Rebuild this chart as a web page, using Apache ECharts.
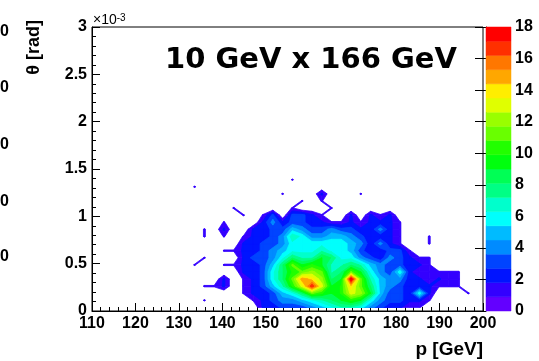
<!DOCTYPE html>
<html><head><meta charset="utf-8">
<script src="https://cdn.jsdelivr.net/npm/echarts@6/dist/echarts.min.js"></script>
<style>html,body{margin:0;padding:0;background:#fff}#c{width:539px;height:361px}</style>
</head><body><div id="c"></div>
<script>
// ---- axes / binning ----
const pMin = 110, pMax = 200, nBinsP = 40;          // p [GeV]
const thMin = 0, thMax = 3, nBinsTh = 40;           // theta in units of 1e-3 rad
const firstPBin = 10;                               // rows below hold p bins 10..38
const xTickValues = [110,120,130,140,150,160,170,180,190,200];
const yTickValues = [0,0.5,1,1.5,2,2.5,3];
const zTickValues = [0,2,4,6,8,10,12,14,16,18];
const zMax = 18, nLevels = 20;
const titleText = '10 GeV x 166 GeV';
const xTitle = 'p [GeV]';
const yTitle = '\u03b8 [rad]';
const strayLabels = ['0','0','0','0','0'];

// ---- bin contents, one array per theta bin (bin 0 = lowest), p bins 10..38 ----
const thRow00 = [0,0,0,0,0,0,0,2,2,3,3,3,4,5,6,7,7,6,4,3,2,2,1,1,0,0,0,0,0];
const thRow01 = [0,1,0,0,0,0,1,2,3,4,4,5,6,7,8,9,10,9,6,4,3,3,2,2,1,0,0,0,0];
const thRow02 = [0,0,0,0,0,1,2,2,3,5,6,8,11,10,9,10,13,12,9,5,3,3,2,6,2,0,0,0,1];
const thRow03 = [0,1,1,2,0,1,2,3,5,7,10,13,17,13,9,10,14,11,8,5,4,3,2,2,2,1,1,1,0];
const thRow04 = [0,0,0,2,0,1,2,3,6,8,11,15,14,12,8,9,18,11,7,5,4,4,2,2,1,2,1,1,0];
const thRow05 = [0,0,0,0,0,2,2,3,6,8,10,11,12,11,7,8,11,9,6,4,3,6,2,1,1,1,1,1,0];
const thRow06 = [1,0,0,1,1,2,2,3,5,8,11,9,10,9,7,7,8,7,5,4,3,3,2,2,1,0,0,0,0];
const thRow07 = [0,1,0,0,0,2,3,3,4,6,8,7,7,9,8,6,6,4,3,2,4,3,2,1,1,0,0,0,0];
const thRow08 = [0,0,0,1,1,2,2,3,4,5,6,6,6,7,6,6,5,3,2,2,3,3,1,0,0,0,0,0,0];
const thRow09 = [0,0,0,0,0,2,2,3,3,4,6,6,6,6,6,6,5,4,2,4,2,1,0,0,1,0,0,0,0];
const thRow10 = [0,1,0,1,0,1,2,2,3,4,7,6,4,4,5,5,4,3,2,2,2,1,0,0,1,0,0,0,0];
const thRow11 = [0,1,0,2,0,0,2,2,3,3,5,4,3,3,4,3,3,2,2,4,2,1,0,0,0,0,0,0,0];
const thRow12 = [0,0,0,1,0,0,0,2,4,2,3,3,2,2,1,1,2,1,2,2,2,1,0,0,0,0,0,0,0];
const thRow13 = [0,0,0,0,0,1,0,1,3,0,3,3,2,1,0,0,2,0,2,1,2,0,0,0,0,0,0,0,0];
const thRow14 = [0,0,0,0,1,0,0,0,0,0,1,0,0,0,1,0,0,0,0,0,0,0,0,0,0,0,0,0,0];
const thRow15 = [0,0,0,0,0,0,0,0,0,0,0,1,0,1,0,0,0,0,0,0,0,0,0,0,0,0,0,0,0];
const thRow16 = [0,0,0,0,0,0,0,0,0,1,0,0,0,2,0,0,0,1,0,0,0,0,0,0,0,0,0,0,0];
const thRow17 = [1,0,0,0,0,0,0,0,0,0,0,0,0,0,0,0,0,0,0,0,0,0,0,0,0,0,0,0,0];
const thRow18 = [0,0,0,0,0,0,0,0,0,0,1,0,0,0,0,0,0,0,0,0,0,0,0,0,0,0,0,0,0];
const thRows = [thRow00,thRow01,thRow02,thRow03,thRow04,thRow05,thRow06,thRow07,thRow08,thRow09,
                thRow10,thRow11,thRow12,thRow13,thRow14,thRow15,thRow16,thRow17,thRow18];

// ---- helpers ----
const pBinW = (pMax - pMin) / nBinsP, thBinW = (thMax - thMin) / nBinsTh;
const pCenter = k => pMin + (k + 0.5) * pBinW;
const thCenter = j => thMin + (j + 0.5) * thBinW;
function binVal(k, j) {
  const row = thRows[j];
  if (!row) return 0;
  const v = row[k - firstPBin];
  return v === undefined ? 0 : v;
}
const levels = [];
for (let b = 0; b <= nLevels; b++) levels.push(zMax * b / nLevels);
function hslHex(h) {
  const f = n => { const kk = (n + h / 30) % 12; const c = 0.5 - 0.5 * Math.max(-1, Math.min(kk - 3, 9 - kk, 1));
    return Math.round(c * 255).toString(16).padStart(2, '0'); };
  return '#' + f(0) + f(8) + f(4);
}
const bandColors = [];
for (let b = 0; b < nLevels; b++) {
  const idx = Math.floor((b + 0.99) * 50 / nLevels);
  const hue = idx >= 49 ? 0 : 280 - (idx + 1) * 5.6;
  bandColors.push(hslHex(hue));
}
function clipAbove(P, V, lo) {
  const out = [], n = P.length;
  for (let i = 0; i < n; i++) {
    const a = i, b = (i + 1) % n;
    const ina = V[a] >= lo, inb = V[b] >= lo;
    if (ina) out.push(P[a]);
    if (ina !== inb) {
      const t = (lo - V[a]) / (V[b] - V[a]);
      out.push([P[a][0] + t * (P[b][0] - P[a][0]), P[a][1] + t * (P[b][1] - P[a][1])]);
    }
  }
  return out;
}
function cellsAbove(lo) {
  const cells = [];
  for (let j = 0; j < nBinsTh - 1; j++) for (let k = 0; k < nBinsP - 1; k++) {
    const m = Math.max(binVal(k, j), binVal(k + 1, j), binVal(k + 1, j + 1), binVal(k, j + 1));
    if (m >= lo) cells.push([pCenter(k), thCenter(j), k, j]);
  }
  return cells;
}
function makeRenderer(b) {
  return function (params, api) {
    const k = api.value(2), j = api.value(3);
    const V = [binVal(k, j), binVal(k + 1, j), binVal(k + 1, j + 1), binVal(k, j + 1)];
    const P = [api.coord([pCenter(k), thCenter(j)]), api.coord([pCenter(k + 1), thCenter(j)]),
               api.coord([pCenter(k + 1), thCenter(j + 1)]), api.coord([pCenter(k), thCenter(j + 1)])];
    const poly = clipAbove(P, V, levels[b]);
    if (poly.length < 3) return null;
    return { type: 'polygon', shape: { points: poly },
      style: { fill: bandColors[b], stroke: bandColors[b], lineWidth: 0.8 } };
  };
}
const contourSeries = [];
for (let b = 1; b < nLevels; b++) {
  contourSeries.push({ type: 'custom', coordinateSystem: 'cartesian2d', xAxisIndex: 0, yAxisIndex: 0,
    clip: true, silent: true, data: cellsAbove(levels[b]), encode: { x: 0, y: 1 }, renderItem: makeRenderer(b) });
}
const barBands = bandColors.map((c, b) => [b]);
function renderBand(params, api) {
  const b = api.value(0);
  const p0 = api.coord([0, levels[b]]), p1 = api.coord([1, levels[b + 1]]);
  return { type: 'rect', shape: { x: p0[0], y: p1[1], width: p1[0] - p0[0], height: p0[1] - p1[1] },
    style: { fill: bandColors[b], stroke: bandColors[b], lineWidth: 0.5 } };
}

const FONT = "'Liberation Sans', Arial, Helvetica, sans-serif";
const chart = echarts.init(document.getElementById('c'), null, { renderer: 'canvas' });
const labelStyle = { color: '#000', fontFamily: FONT, fontWeight: 'bold', fontSize: 16 };
chart.setOption({
  animation: false,
  backgroundColor: '#fff',
  grid: [
    { left: 92, top: 27, width: 391, height: 284, show: true, borderColor: '#000', borderWidth: 1, backgroundColor: 'transparent' },
    { left: 486, top: 27, width: 25, height: 284, show: false }
  ],
  xAxis: [
    { type: 'value', gridIndex: 0, min: pMin, max: pMax, interval: 10,
      axisLine: { show: true, lineStyle: { color: '#000', width: 1 } },
      axisTick: { show: true, inside: true, length: 8, lineStyle: { color: '#000' } },
      minorTick: { show: true, splitNumber: 5, length: 4, lineStyle: { color: '#000' } },
      splitLine: { show: false }, minorSplitLine: { show: false },
      axisLabel: Object.assign({ margin: 5, showMinLabel: true, showMaxLabel: true }, labelStyle) },
    { type: 'value', gridIndex: 1, min: 0, max: 1, show: false }
  ],
  yAxis: [
    { type: 'value', gridIndex: 0, min: thMin, max: thMax, interval: 0.5,
      axisLine: { show: true, lineStyle: { color: '#000', width: 1 } },
      axisTick: { show: true, inside: true, length: 8, lineStyle: { color: '#000' } },
      minorTick: { show: true, splitNumber: 5, length: 4, lineStyle: { color: '#000' } },
      splitLine: { show: false }, minorSplitLine: { show: false },
      axisLabel: Object.assign({ margin: 5, showMinLabel: true, showMaxLabel: true }, labelStyle) },
    { type: 'value', gridIndex: 1, min: 0, max: zMax, interval: 2, position: 'right',
      axisLine: { show: true, lineStyle: { color: '#000', width: 1 } },
      axisTick: { show: true, inside: true, length: 11, lineStyle: { color: '#000' } },
      splitLine: { show: false },
      axisLabel: Object.assign({ margin: 4, showMinLabel: true, showMaxLabel: true }, labelStyle) }
  ],
  series: contourSeries.concat([
    { type: 'custom', coordinateSystem: 'cartesian2d', xAxisIndex: 1, yAxisIndex: 1,
      data: barBands, encode: { y: 0 }, renderItem: renderBand, silent: true }
  ]),
  graphic: [
    { type: 'text', x: 311, y: 60, style: { text: titleText, fill: '#000', font: "bold 29px 'DejaVu Sans', sans-serif",
      textAlign: 'center', textVerticalAlign: 'middle' } },
    { type: 'text', x: 483, y: 350, style: { text: xTitle, fill: '#000', font: 'bold 19px ' + FONT,
      textAlign: 'right', textVerticalAlign: 'middle' } },
    { type: 'text', x: 34, y: 20, rotation: Math.PI / 2, style: { text: yTitle, fill: '#000', font: 'bold 18px ' + FONT,
      textAlign: 'right', textVerticalAlign: 'middle' } },
    { type: 'text', x: 93, y: 13, style: { text: '{a|\u00d710}{b|-3}', fill: '#000',
      rich: { a: { fontFamily: FONT, fontSize: 14, lineHeight: 14, verticalAlign: 'bottom' },
              b: { fontFamily: FONT, fontSize: 10, lineHeight: 10, verticalAlign: 'top' } } } }
  ].concat(strayLabels.map((t, i) => ({ type: 'text', x: 9, y: [32, 88, 145, 202, 257][i],
      style: { text: t, fill: '#000', font: 'bold 16px ' + FONT, textAlign: 'right', textVerticalAlign: 'middle' } })))
});
</script></body></html>
